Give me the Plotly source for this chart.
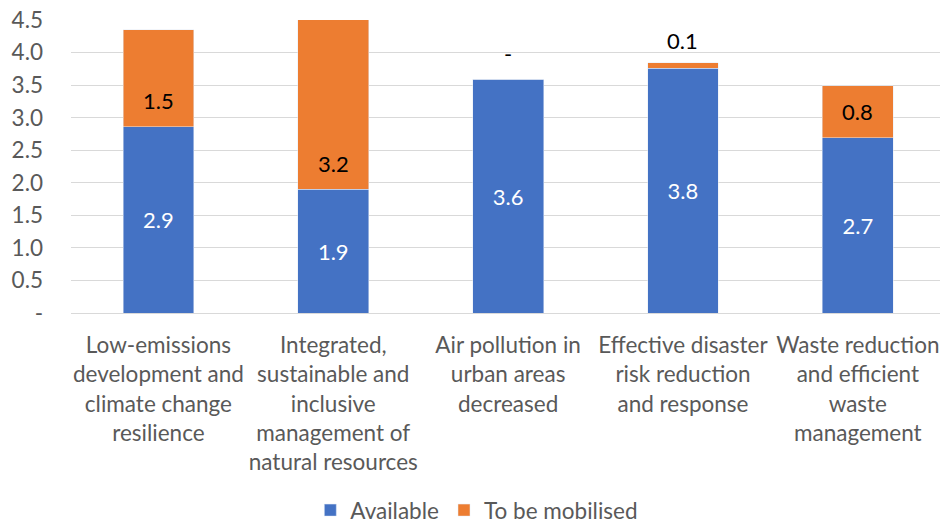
import plotly.graph_objects as go

categories = [
    "Low-emissions<br>development and<br>climate change<br>resilience",
    "Integrated,<br>sustainable and<br>inclusive<br>management of<br>natural resources",
    "Air pollution in<br>urban areas<br>decreased",
    "Effective disaster<br>risk reduction<br>and response",
    "Waste reduction<br>and efficient<br>waste<br>management",
]
available = [2.86, 1.90, 3.59, 3.76, 2.69]
mobilised = [1.49, 3.20, 0.0, 0.08, 0.80]
y_ticks = [0, 0.5, 1.0, 1.5, 2.0, 2.5, 3.0, 3.5, 4.0, 4.5]
y_ticktext = ["-", "0.5", "1.0", "1.5", "2.0", "2.5", "3.0", "3.5", "4.0", "4.5"]

BLUE = "#4472C4"
ORANGE = "#ED7D31"
GREY = "#595959"
FONT = "Lato, Calibri, Carlito, sans-serif"


def fmt(v):
    return "-" if v == 0 else f"{v:.1f}"


x = list(range(len(categories)))

fig = go.Figure()
fig.add_trace(go.Bar(
    x=x, y=available, name="Available", marker_color=BLUE,
    text=[fmt(v) for v in available], textposition="inside",
    insidetextanchor="middle", textangle=0, constraintext="none",
    textfont=dict(color="white", size=22, family=FONT),
    width=0.405,
))
fig.add_trace(go.Bar(
    x=x, y=mobilised, name="To be mobilised", marker_color=ORANGE,
    textposition="none", width=0.405,
))

# Orange labels: near base of segment when large, above the bar when tiny
for i, (a, m) in enumerate(zip(available, mobilised)):
    if m >= 0.5:
        y, shift = a, 26
    else:
        y, shift = a + m, 22 if m > 0 else 26
    fig.add_annotation(
        x=i, y=y, yshift=shift, text=fmt(m), showarrow=False,
        yanchor="middle", xanchor="center",
        font=dict(color="black", size=22, family=FONT),
    )

fig.update_layout(
    barmode="stack",
    width=940, height=522,
    margin=dict(l=71, r=0, t=20, b=209, autoexpand=False),
    paper_bgcolor="white", plot_bgcolor="white",
    font=dict(family=FONT, color=GREY, size=22),
    showlegend=True,
    legend=dict(
        orientation="h", x=0.467, xanchor="center", y=-0.674, yanchor="middle",
        font=dict(size=22.5, color=GREY), itemwidth=30, traceorder="normal",
    ),
    xaxis=dict(
        range=[-0.5, 4.47], tickmode="array", tickvals=x, ticktext=categories,
        showgrid=False, zeroline=False, showline=False, automargin=False,
        ticks="outside", ticklen=12, tickcolor="rgba(0,0,0,0)",
        tickfont=dict(size=22.5, color=GREY),
        tickangle=0,
    ),
    yaxis=dict(
        range=[0, 4.5], tickmode="array", tickvals=y_ticks, ticktext=y_ticktext,
        showgrid=True, gridcolor="#D9D9D9", gridwidth=1, automargin=False,
        zeroline=True, zerolinecolor="#D9D9D9", zerolinewidth=1,
        showline=False, ticks="", ticklabelstandoff=27,
        tickfont=dict(size=22.5, color=GREY),
    ),
)

fig.write_html(
    "out.html",
    config={"displayModeBar": False},
    post_script="document.body.style.margin='0';",
)
